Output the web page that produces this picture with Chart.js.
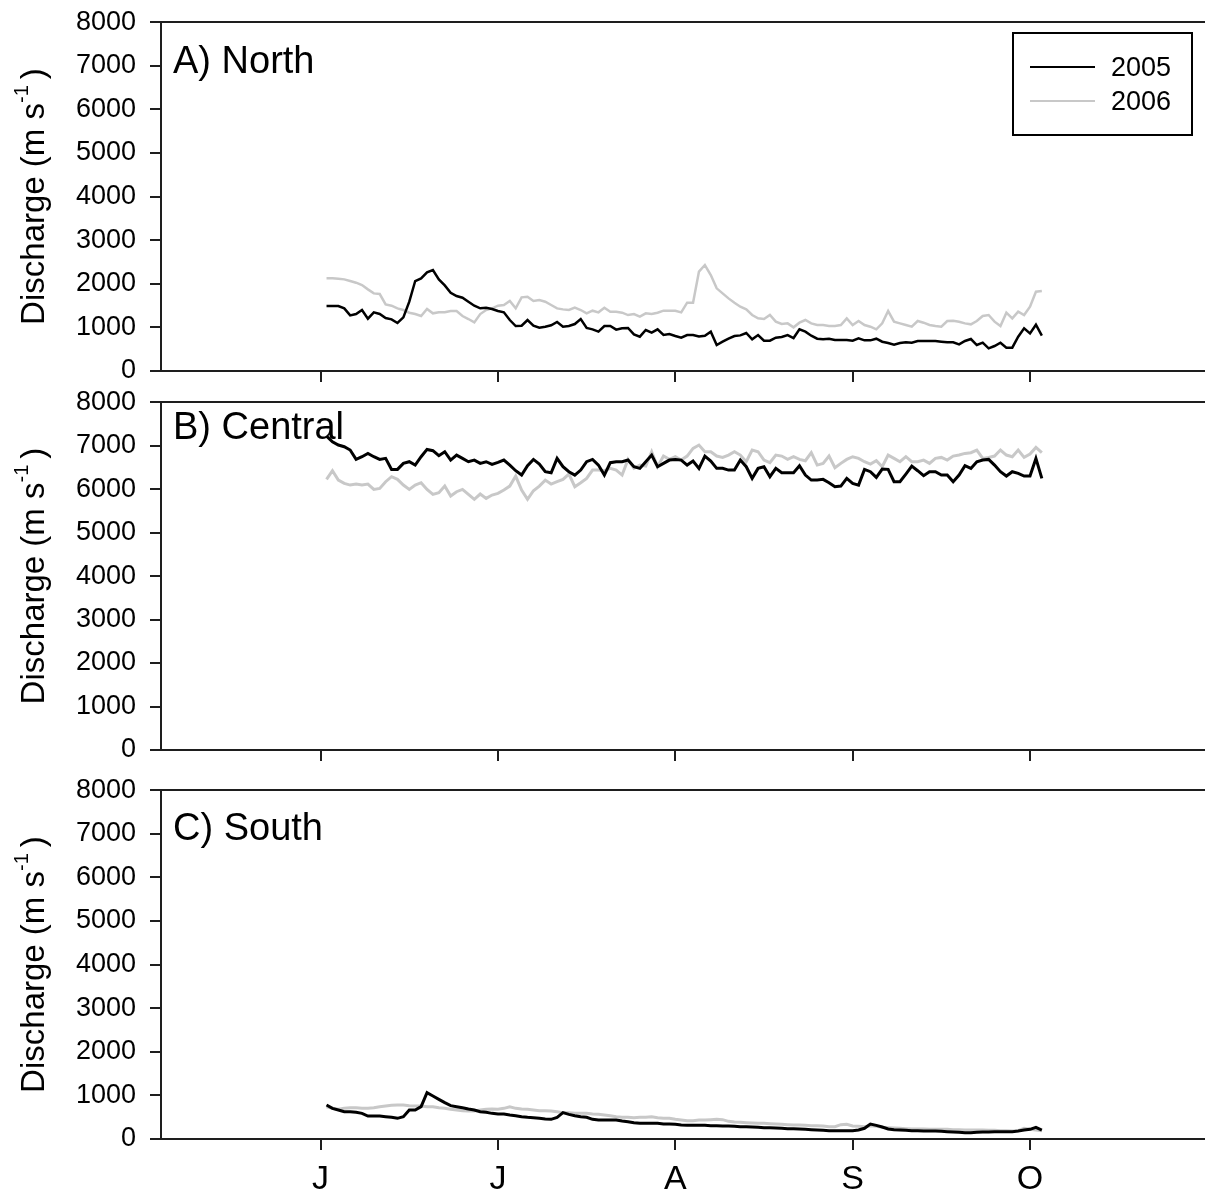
<!DOCTYPE html>
<html lang="en">
<head>
<meta charset="UTF-8">
<title>Discharge 2005 / 2006</title>
<style>
  body { margin: 0; background: #fff; }
  #wrap { position: relative; width: 1205px; height: 1199px; }
  canvas { position: absolute; left: 0; }
</style>
</head>
<body>
<div id="wrap">
  <canvas id="north" width="1205" height="394" style="top:0"></canvas>
  <canvas id="central" width="1205" height="394" style="top:380px"></canvas>
  <canvas id="south" width="1205" height="431" style="top:768px"></canvas>
</div>
<script src="https://cdn.jsdelivr.net/npm/chart.js"></script>
<script>
// day 0 = 1 June, one value per day from FIRST_DAY
const FIRST_DAY = 1;
const monthTicks = [0, 30, 60, 90, 120];
const monthLabels = ['J', 'J', 'A', 'S', 'O'];
const seriesNames = ['2005', '2006'];

const north2005 = [
  1490,1490,1490,1437,1276,1307,1398,1199,1345,1307,
  1215,1184,1100,1230,1589,2063,2124,2261,2315,2101,
  1963,1795,1719,1681,1589,1497,1437,1452,1421,1375,
  1345,1169,1031,1039,1169,1039,993,1016,1047,1123,
  1016,1031,1077,1192,986,955,902,1031,1031,948,
  978,986,841,787,940,879,955,825,848,802,
  764,825,825,
  794,810,902,596,672,741,802,817,871,726,
  825,695,695,764,779,825,756,955,902,810,
  741,726,741,710,710,710,695,749,703,703,
  741,672,642,604,642,657,649,688,688,688,
  688,672,657,657,611,688,733,596,649,519,
  573,649,535,535,787,978,863,1062,810
];
const north2006 = [
  2124,2124,2116,2101,2063,2025,1971,1872,1780,1765,
  1528,1497,1436,1398,1337,1306,1261,1421,1322,1345,
  1345,1375,1375,1261,1192,1115,1306,1398,1436,1497,
  1513,1604,1436,1688,1704,1604,1627,1589,1513,1436,
  1413,1398,1452,1398,1322,1383,1345,1452,1360,1360,
  1337,1283,1306,1245,1322,1306,1337,1383,1383,1383,
  1345,1566,1566,
  2280,2430,2200,1895,1780,1665,1566,1475,1413,1284,
  1207,1192,1284,1131,1077,1092,1001,1108,1169,1092,
  1054,1054,1031,1031,1054,1207,1054,1146,1054,1016,
  955,1092,1375,1131,1092,1054,1016,1146,1108,1054,
  1031,1016,1146,1154,1131,1092,1070,1146,1261,1284,
  1131,1031,1337,1207,1360,1284,1475,1818,1834
];
const central2005 = [
  7219,7089,7012,6974,6897,6682,6744,6820,6744,6682,
  6706,6453,6453,6591,6629,6552,6744,6912,6882,6767,
  6859,6667,6782,6706,6629,6667,6591,6629,6568,6614,
  6667,6552,6422,6322,6537,6682,6575,6399,6376,6706,
  6514,6399,6322,6437,6629,6682,6552,6322,6606,6629,
  6629,6667,6514,6476,6629,6782,6514,6591,6667,6682,
  6667,6552,6644,
  6476,6759,6644,6476,6476,6437,6437,6667,6514,6246,
  6476,6514,6284,6476,6376,6376,6376,6537,6322,6207,
  6207,6223,6146,6054,6069,6246,6131,6092,6453,6399,
  6269,6460,6453,6169,6169,6345,6529,6422,6307,6399,
  6399,6322,6322,6169,6322,6537,6476,6629,6667,6682,
  6552,6399,6299,6399,6361,6299,6299,6705,6246
];
const central2006 = [
  6223,6422,6207,6131,6092,6115,6092,6115,5993,6016,
  6169,6284,6223,6092,5993,6092,6146,5993,5878,5916,
  6069,5840,5939,5993,5878,5763,5886,5786,5863,5901,
  5977,6069,6299,5977,5763,5962,6069,6207,6115,6169,
  6223,6345,6054,6146,6246,6437,6437,6422,6476,6437,
  6322,6682,6476,6552,6529,6859,6514,6759,6682,6744,
  6667,6759,6935,
  7012,6859,6859,6759,6728,6782,6859,6782,6629,6897,
  6859,6667,6606,6782,6759,6682,6744,6682,6652,6836,
  6552,6591,6759,6491,6591,6682,6744,6706,6629,6575,
  6652,6514,6782,6706,6629,6744,6629,6629,6667,6591,
  6706,6728,6667,6759,6782,6820,6836,6897,6706,6728,
  6759,6897,6782,6744,6897,6728,6805,6958,6836
];
const south2005 = [
  779,703,665,627,627,611,588,527,527,527,
  512,497,474,512,665,665,741,1062,986,909,
  833,764,741,718,688,665,627,611,588,573,
  573,550,535,512,497,489,474,458,451,497,
  604,565,535,512,497,451,436,436,436,436,
  413,397,374,359,359,359,359,344,344,336,
  321,313,313,
  313,313,306,306,298,298,290,283,283,275,
  268,260,260,252,245,237,237,229,222,214,
  206,199,191,191,191,191,191,206,245,344,
  313,275,229,214,206,199,191,191,183,183,
  183,176,168,161,153,145,145,153,161,161,
  168,168,168,168,183,206,222,268,206
];
const south2006 = [
  741,703,680,703,718,718,703,703,718,741,
  756,772,779,779,764,756,756,741,741,718,
  703,680,665,650,642,642,665,680,688,680,
  703,741,703,688,680,665,650,650,642,627,
  604,604,588,588,588,573,565,550,535,512,
  497,497,489,497,497,512,489,474,474,451,
  436,420,420,
  436,436,443,451,443,405,390,382,374,367,
  359,359,351,344,336,329,321,321,313,306,
  306,298,283,283,329,336,298,290,283,306,
  290,268,260,252,245,237,229,229,229,222,
  222,222,222,214,214,206,206,206,206,199,
  199,191,191,183,191,245,222,206,191
];

const FONT = '"Liberation Sans", Arial, Helvetica, sans-serif';
const AXIS = '#1e1e1e';
const GRAY = '#c8c8c8';

function toPoints(vals) {
  return vals.map((v, i) => ({ x: FIRST_DAY + i, y: v }));
}

// frame top line, panel letter, y title and (optionally) the legend box
const panelDecor = {
  id: 'panelDecor',
  afterDraw(chart, args, o) {
    const { ctx, chartArea: a } = chart;
    ctx.save();
    ctx.strokeStyle = AXIS;
    ctx.lineWidth = 2;
    ctx.beginPath();
    ctx.moveTo(a.left - 11, a.top);
    ctx.lineTo(a.right, a.top);
    ctx.stroke();

    ctx.fillStyle = '#000';
    ctx.font = '38px ' + FONT;
    ctx.textAlign = 'left';
    ctx.textBaseline = 'alphabetic';
    ctx.fillText(o.label, 173, a.top + o.labelOffset);

    // rotated y title with superscript
    const cy = (a.top + a.bottom) / 2;
    ctx.translate(35, cy);
    ctx.rotate(-Math.PI / 2);
    ctx.textBaseline = 'middle';
    ctx.font = '33px ' + FONT;
    const main = 'Discharge (m s';
    const w1 = ctx.measureText(main).width;
    const wp = ctx.measureText(')').width;
    ctx.font = '20px ' + FONT;
    const ws = ctx.measureText('-1').width;
    const total = w1 + ws + 6 + wp;
    let x = -total / 2;
    ctx.font = '33px ' + FONT;
    ctx.fillText(main, x, 0);
    x += w1;
    ctx.font = '20px ' + FONT;
    ctx.fillText('-1', x, -13);
    x += ws + 6;
    ctx.font = '33px ' + FONT;
    ctx.fillText(')', x, 0);
    ctx.setTransform(1, 0, 0, 1, 0, 0);

    if (o.legend) {
      ctx.lineWidth = 2;
      ctx.strokeStyle = '#000';
      ctx.strokeRect(1013, 33, 179, 102);
      ctx.font = '27px ' + FONT;
      ctx.textBaseline = 'alphabetic';
      ctx.textAlign = 'left';
      const rows = [[seriesNames[0], '#000', 67], [seriesNames[1], GRAY, 101]];
      rows.forEach(([name, col, y]) => {
        ctx.strokeStyle = col;
        ctx.beginPath();
        ctx.moveTo(1030, y);
        ctx.lineTo(1095, y);
        ctx.stroke();
        ctx.fillStyle = '#000';
        ctx.fillText(name, 1111, y + 9);
      });
    }
    ctx.restore();
  }
};

function makePanel(id, data2005, data2006, opt) {
  return new Chart(document.getElementById(id), {
    type: 'line',
    data: {
      datasets: [
        { label: seriesNames[0], data: toPoints(data2005), borderColor: '#000',
          borderWidth: opt.lw, pointRadius: 0, tension: 0 },
        { label: seriesNames[1], data: toPoints(data2006), borderColor: GRAY,
          borderWidth: opt.lw, pointRadius: 0, tension: 0 }
      ]
    },
    options: {
      responsive: false,
      animation: false,
      layout: { padding: { top: 22, left: 0, right: 0, bottom: 0 } },
      plugins: {
        legend: { display: false },
        tooltip: { enabled: false },
        panelDecor: { label: opt.label, labelOffset: opt.labelOffset, legend: !!opt.legend }
      },
      scales: {
        x: {
          type: 'linear',
          min: -27,
          max: 149.6,
          afterFit(s) { s.height = opt.xh; },
          afterBuildTicks(s) { s.ticks = monthTicks.map(v => ({ value: v })); },
          grid: { drawOnChartArea: false, drawTicks: true, tickLength: 11, color: AXIS, lineWidth: 2 },
          border: { display: true, color: AXIS, width: 2 },
          ticks: {
            padding: 9,
            color: '#000',
            font: { family: FONT, size: 34 },
            maxRotation: 0,
            autoSkip: false,
            callback: (v, i) => opt.showX ? monthLabels[i] : ''
          }
        },
        y: {
          min: 0,
          max: 8000,
          afterFit(s) { s.width = 161; },
          grid: { drawOnChartArea: false, drawTicks: true, tickLength: 11, color: AXIS, lineWidth: 2 },
          border: { display: true, color: AXIS, width: 2 },
          ticks: {
            stepSize: 1000,
            padding: 14,
            color: '#000',
            font: { family: FONT, size: 27, lineHeight: 0.6 },
            callback: v => String(v)
          }
        }
      }
    },
    plugins: [panelDecor]
  });
}

makePanel('north', north2005, north2006, { label: 'A) North', labelOffset: 51, lw: 2.5, xh: 23, legend: true, showX: false });
makePanel('central', central2005, central2006, { label: 'B) Central', labelOffset: 37, lw: 3, xh: 24, showX: false });
makePanel('south', south2005, south2006, { label: 'C) South', labelOffset: 50, lw: 3, xh: 60, showX: true });
</script>
</body>
</html>
